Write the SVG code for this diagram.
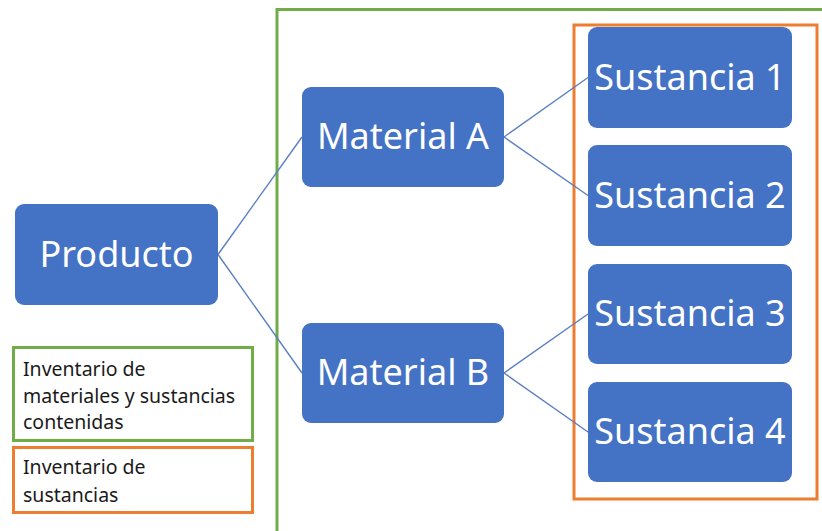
<svg xmlns="http://www.w3.org/2000/svg" width="822" height="531" viewBox="0 0 822 531">
  <style>
    .node rect { fill: #4472C4; }
    .node text { fill: #ffffff; font-family: "Noto Sans", "Open Sans", sans-serif; font-size: 36px; text-anchor: middle; }
    .frame-green { fill: none; stroke: #70AD47; stroke-width: 3; }
    .frame-orange { fill: none; stroke: #ED7D31; stroke-width: 3; }
    .legend text { fill: #1a1a1a; font-family: "Noto Sans", "Open Sans", sans-serif; font-size: 19.5px; }
    .links line { stroke: #5A7EC2; stroke-width: 1.4; }
  </style>
  <rect width="822" height="531" fill="#ffffff"/>

  <!-- inventory frames -->
  <rect class="frame-green" x="277" y="9.5" width="560" height="540"/>
  <rect class="frame-orange" x="574" y="25" width="243" height="474"/>

  <!-- connectors -->
  <g id="connectors" class="links">
    <line x1="218" y1="254.5" x2="302" y2="137"/>
    <line x1="218" y1="254.5" x2="302" y2="373"/>
    <line x1="504" y1="137" x2="588" y2="77.5"/>
    <line x1="504" y1="137" x2="588" y2="195.5"/>
    <line x1="504" y1="373" x2="588" y2="314"/>
    <line x1="504" y1="373" x2="588" y2="432"/>
  </g>

  <g id="producto" class="node">
    <rect x="15" y="204" width="203" height="101" rx="9"/>
    <text x="116.5" y="267">Producto</text>
  </g>
  <g id="material-a" class="node">
    <rect x="302" y="87" width="202" height="100" rx="9"/>
    <text x="403" y="149">Material A</text>
  </g>
  <g id="material-b" class="node">
    <rect x="302" y="323" width="202" height="100" rx="9"/>
    <text x="403" y="385">Material B</text>
  </g>
  <g id="sustancia-1" class="node">
    <rect x="588" y="27" width="204" height="101" rx="9"/>
    <text x="690" y="90">Sustancia 1</text>
  </g>
  <g id="sustancia-2" class="node">
    <rect x="588" y="145" width="204" height="101" rx="9"/>
    <text x="690" y="208">Sustancia 2</text>
  </g>
  <g id="sustancia-3" class="node">
    <rect x="588" y="264" width="204" height="100" rx="9"/>
    <text x="690" y="326">Sustancia 3</text>
  </g>
  <g id="sustancia-4" class="node">
    <rect x="588" y="382" width="204" height="100" rx="9"/>
    <text x="690" y="444">Sustancia 4</text>
  </g>

  <!-- legend -->
  <g id="legend-materiales" class="legend">
    <rect class="frame-green" x="13.5" y="347.5" width="239" height="93"/>
    <text x="23" y="376">Inventario de</text>
    <text x="23" y="403">materiales y sustancias</text>
    <text x="23" y="429">contenidas</text>
  </g>
  <g id="legend-sustancias" class="legend">
    <rect class="frame-orange" x="13.5" y="447.5" width="239" height="65"/>
    <text x="23" y="474">Inventario de</text>
    <text x="23" y="502">sustancias</text>
  </g>
</svg>
